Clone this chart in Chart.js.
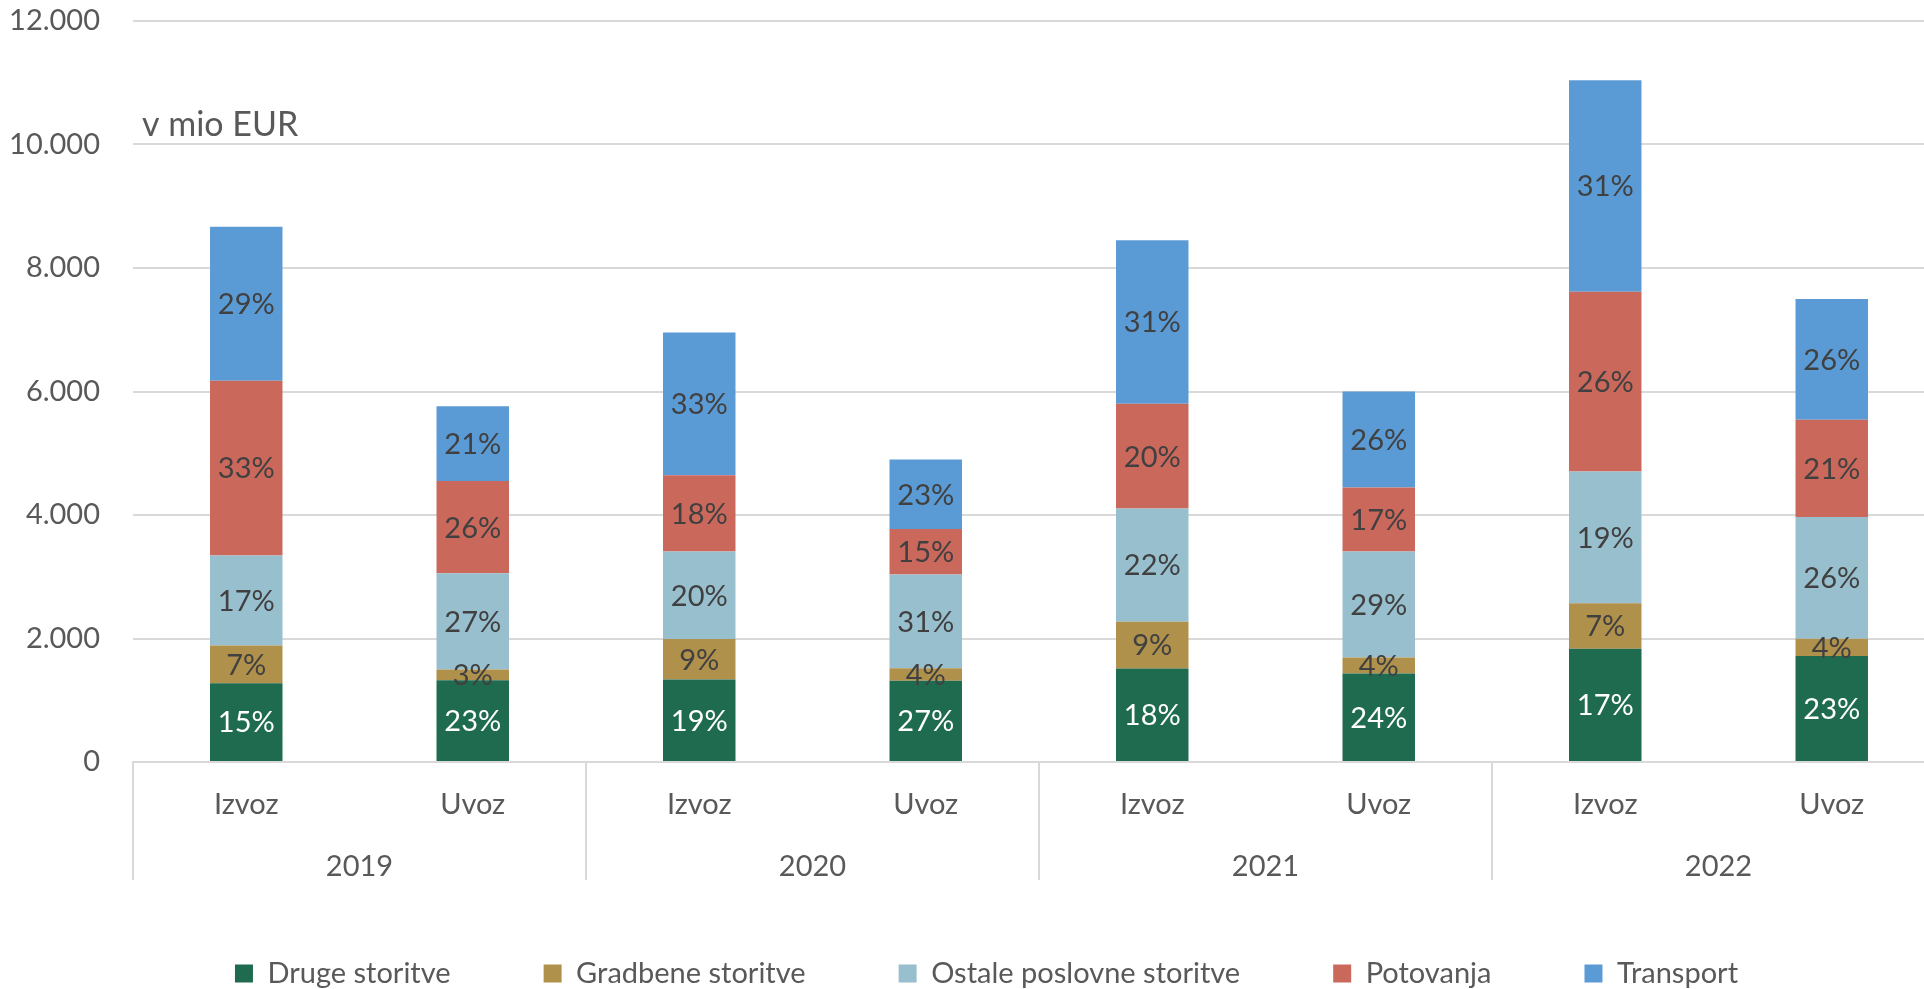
<!DOCTYPE html>
<html>
<head>
<meta charset="utf-8">
<script src="https://cdn.jsdelivr.net/npm/chart.js@4.4.1/dist/chart.umd.min.js"></script>
<style>
  html, body { margin: 0; padding: 0; overflow: hidden; background: #fff; }
</style>
</head>
<body>
<canvas id="chart" width="1946" height="998"></canvas>
<script>
// podatki (v mio EUR)
const leta = ['2019', '2020', '2021', '2022'];
const kategorije = ['Izvoz', 'Uvoz', 'Izvoz', 'Uvoz', 'Izvoz', 'Uvoz', 'Izvoz', 'Uvoz'];
const druge = [1275, 1325, 1335, 1315, 1515, 1435, 1834, 1715];
const gradbene = [610, 175, 658, 205, 757, 259, 737, 280];
const ostale = [1460, 1555, 1415, 1515, 1834, 1714, 2133, 1974];
const potovanja = [2830, 1495, 1236, 740, 1694, 1037, 2910, 1574];
const transport = [2495, 1210, 2312, 1125, 2651, 1555, 3428, 1953];
const yTicks = [0, 2000, 4000, 6000, 8000, 10000, 12000];

const siva = '#595959';
const pisava = 'Lato';

const fmt = v => String(v).replace(/\B(?=(\d{3})+(?!\d))/g, '.');

// odstotki v stolpcih
const oznake = {
    id: 'oznake',
    afterDatasetsDraw(chart) {
        const ctx = chart.ctx;
        ctx.save();
        ctx.font = '29px ' + pisava;
        ctx.textAlign = 'center';
        ctx.textBaseline = 'middle';
        chart.data.datasets.forEach((ds, di) => {
            chart.getDatasetMeta(di).data.forEach((bar, i) => {
                const skupaj = chart.data.datasets.reduce((s, d) => s + d.data[i], 0);
                const pct = Math.round(ds.data[i] / skupaj * 100) + '%';
                ctx.fillStyle = di === 0 ? '#ffffff' : '#404040';
                ctx.fillText(pct, bar.x, (bar.y + bar.base) / 2 + 1);
            });
        });
        ctx.restore();
    }
};

// ločilne črte med leti + napis enote
const okvir = {
    id: 'okvir',
    afterLayout(chart) {
        // legenda: malo desno od sredine in nekoliko višje
        chart.legend.left += 14;
        chart.legend.right += 14;
        chart.legend.top -= 18;
        chart.legend.bottom -= 18;
    },
    afterDraw(chart) {
        const ctx = chart.ctx;
        const x = chart.scales.x;
        const pol = (x.getPixelForValue(1) - x.getPixelForValue(0)) / 2;
        const area = chart.chartArea;
        ctx.save();
        ctx.strokeStyle = '#d9d9d9';
        ctx.lineWidth = 2;
        for (let k = 0; k <= leta.length; k++) {
            const px = x.getPixelForValue(k * 2) - pol;
            ctx.beginPath();
            ctx.moveTo(px, area.bottom);
            ctx.lineTo(px, 880);
            ctx.stroke();
        }
        ctx.fillStyle = siva;
        ctx.font = '34px ' + pisava;
        ctx.textBaseline = 'middle';
        ctx.fillText('v mio EUR', area.left + 9, 125);
        ctx.restore();
    }
};

const brezRoba = s => { s.paddingTop = 0; s.paddingBottom = 0; s.paddingLeft = 0; s.paddingRight = 0; };

new Chart(document.getElementById('chart'), {
    type: 'bar',
    data: {
        labels: kategorije,
        datasets: [
            { label: 'Druge storitve', data: druge, backgroundColor: '#1F6B50' },
            { label: 'Gradbene storitve', data: gradbene, backgroundColor: '#B0914C' },
            { label: 'Ostale poslovne storitve', data: ostale, backgroundColor: '#98BFCE' },
            { label: 'Potovanja', data: potovanja, backgroundColor: '#CB685C' },
            { label: 'Transport', data: transport, backgroundColor: '#5B9BD5' }
        ]
    },
    options: {
        responsive: false,
        animation: false,
        layout: { padding: { top: 21, left: 0, right: 1, bottom: -18 } },
        datasets: { bar: { barPercentage: 0.32, categoryPercentage: 1 } },
        plugins: {
            legend: {
                position: 'bottom',
                labels: {
                    boxWidth: 18,
                    boxHeight: 18,
                    padding: 93,
                    color: siva,
                    font: { family: pisava, size: 29 }
                }
            },
            tooltip: { enabled: false }
        },
        scales: {
            x: {
                stacked: true,
                grid: { display: false, drawTicks: false },
                border: { display: true, color: '#d9d9d9', width: 2 },
                ticks: { color: siva, font: { family: pisava, size: 29 }, padding: 25, maxRotation: 0 },
                afterFit: s => { brezRoba(s); s.height = 61; }
            },
            y: {
                stacked: true,
                min: 0,
                max: 12000,
                afterBuildTicks: s => { s.ticks = yTicks.map(v => ({ value: v })); },
                grid: { color: '#d9d9d9', lineWidth: 2, drawTicks: false },
                border: { display: false },
                ticks: { color: siva, font: { family: pisava, size: 29 }, padding: 33, callback: v => fmt(v) },
                afterFit: s => { brezRoba(s); s.width = 133; }
            },
            x2: {
                type: 'category',
                labels: leta,
                position: 'bottom',
                offset: true,
                grid: { display: false, drawTicks: false },
                border: { display: false },
                ticks: { color: siva, font: { family: pisava, size: 29 }, padding: 26, maxRotation: 0 },
                afterFit: s => { brezRoba(s); s.height = 61; }
            }
        }
    },
    plugins: [oznake, okvir]
});
</script>
</body>
</html>
